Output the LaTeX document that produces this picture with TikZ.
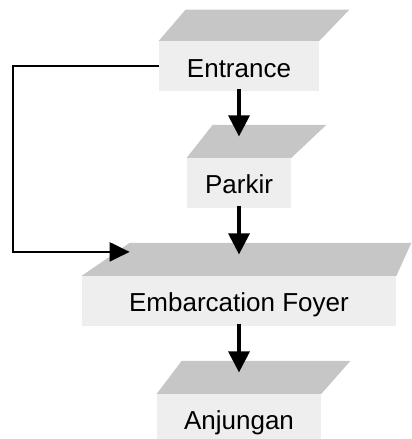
\documentclass[tikz,border=0pt]{standalone}
\usepackage{fontspec}
\setmainfont{Liberation Sans}
\usetikzlibrary{arrows.meta}
\definecolor{slabgray}{HTML}{C6C6C6}
\definecolor{roomgray}{HTML}{EEEEEE}
\tikzset{
  every picture/.style={line join=miter, >=Triangle},
  room/.style={fill=roomgray, inner sep=0pt, text height=0.43cm, text depth=0pt, minimum height=1.000cm, font=\fontsize{14.8}{17}\selectfont},
  slab/.style={fill=slabgray},
  flow/.style={-{Triangle[length=0.42cm,width=0.42cm]}, line width=0.065cm, shorten <=-0.06cm, shorten >=0.43cm},
  back/.style={-{Triangle[length=0.40cm,width=0.38cm]}, line width=0.045cm},
}

\begin{document}
\begin{tikzpicture}
\useasboundingbox (0.000,0.000) rectangle (8.220,8.780);
\node[room, minimum width=3.200cm] (entrance) at (4.780,7.454) {Entrance};
\node[room, minimum width=2.080cm] (parkir) at (4.780,5.115) {Parkir};
\node[room, minimum width=6.280cm] (foyer) at (4.780,2.755) {Embarcation Foyer};
\node[room, minimum width=3.280cm] (anjungan) at (4.780,0.395) {Anjungan};
\fill[slab] (entrance.north west) -- ++(0.540,0.626) -- ([shift={(0.600,0.626)}]entrance.north east) -- (entrance.north east) -- cycle;
\fill[slab] (parkir.north west) -- ++(0.520,0.660) -- ([shift={(0.700,0.660)}]parkir.north east) -- (parkir.north east) -- cycle;
\fill[slab] (foyer.north west) -- ++(0.960,0.660) -- ([shift={(0.300,0.660)}]foyer.north east) -- (foyer.north east) -- cycle;
\fill[slab] (anjungan.north west) -- ++(0.500,0.660) -- ([shift={(0.580,0.660)}]anjungan.north east) -- (anjungan.north east) -- cycle;
\coordinate (foyer-in) at ([shift={(0.960,0.480)}]foyer.north west);
\draw[back] (entrance.west) -- ++(-2.920,0) |- (foyer-in);
\draw[flow] (entrance) -- (parkir);
\draw[flow] (parkir) -- (foyer);
\draw[flow] (foyer) -- (anjungan);
\end{tikzpicture}
\end{document}
